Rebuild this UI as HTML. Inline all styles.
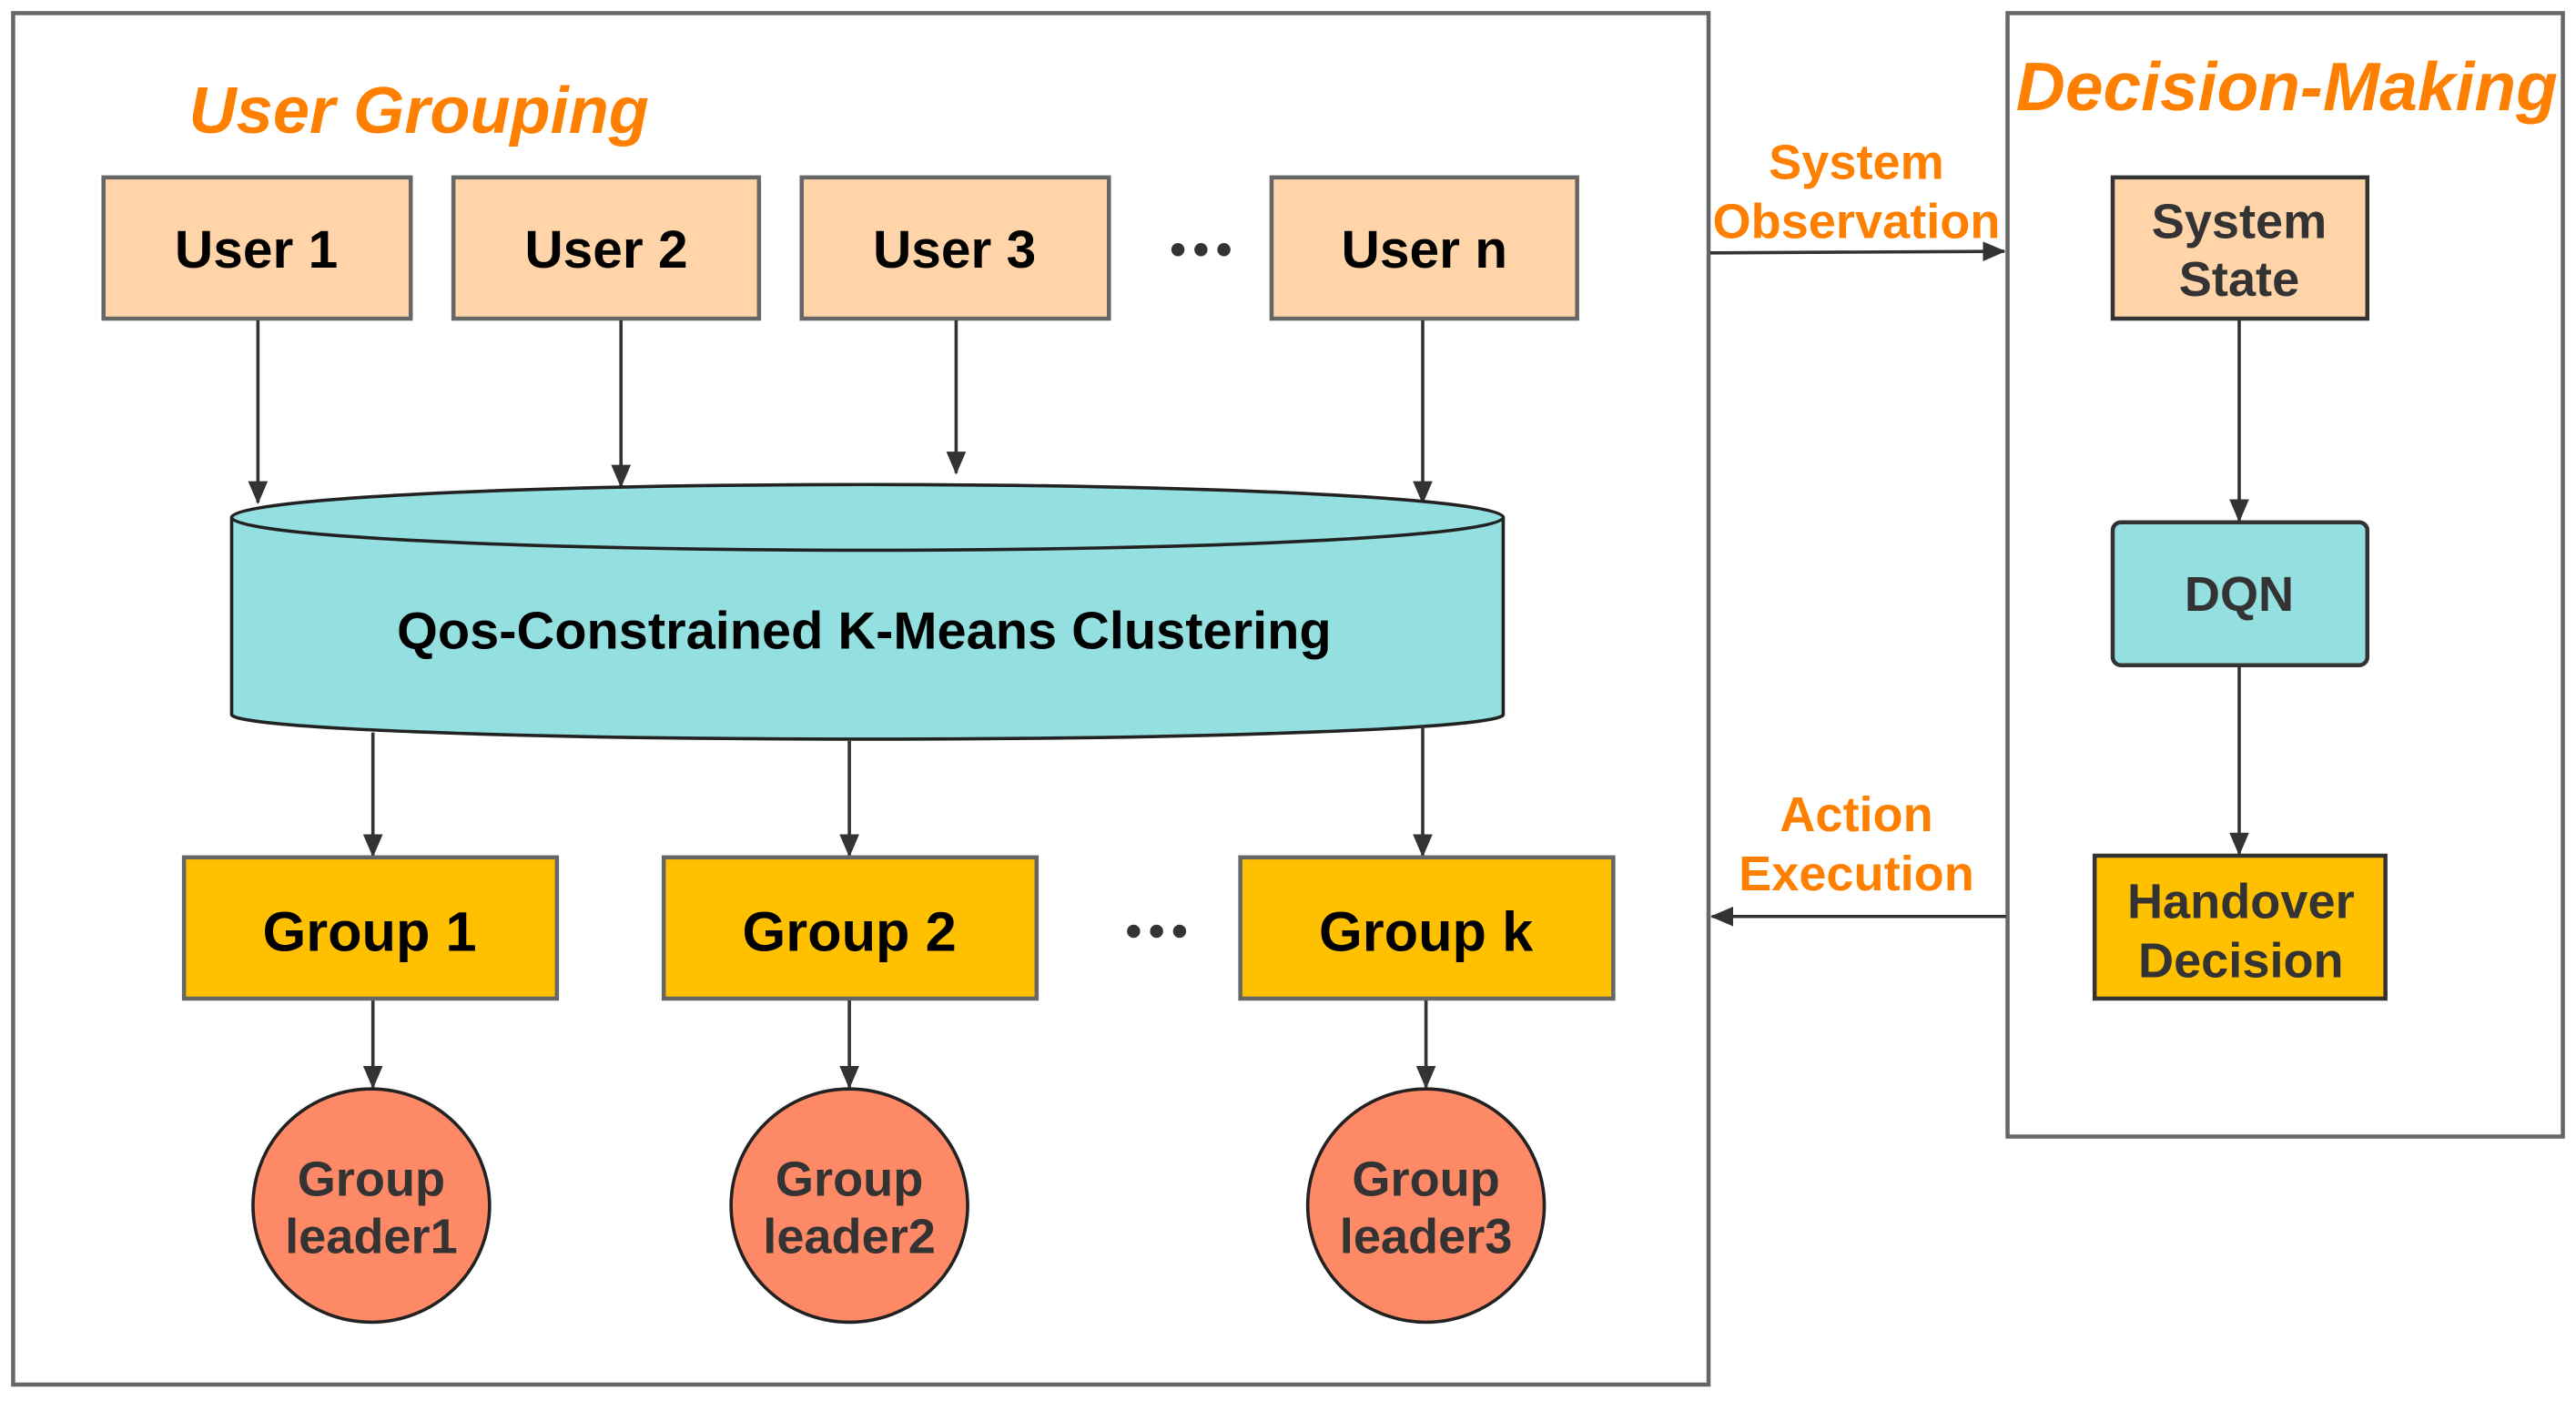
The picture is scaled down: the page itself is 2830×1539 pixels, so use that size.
<!DOCTYPE html>
<html><head><meta charset="utf-8"><style>
html,body{margin:0;padding:0;background:#fff}
svg{display:block}
text{font-family:"Liberation Sans","DejaVu Sans",sans-serif;font-weight:bold}
</style></head><body>
<svg width="2830" height="1539" viewBox="0 0 1568 853" preserveAspectRatio="none" xmlns="http://www.w3.org/2000/svg">
<defs>
<marker id="b" markerWidth="14" markerHeight="12" refX="13" refY="6" orient="auto" markerUnits="userSpaceOnUse">
<path d="M0,0 L14,6 L0,12 Z" fill="#333"/></marker>
</defs>
<rect x="0" y="0" width="1568" height="853" fill="#fff"/>
<rect x="8" y="8" width="1032" height="835" fill="none" stroke="#666" stroke-width="2.5"/>
<rect x="1222" y="8" width="338" height="684" fill="none" stroke="#666" stroke-width="2.5"/>
<text x="115" y="81" font-size="40" font-style="italic" fill="#ff8000">User Grouping</text>
<text x="1392" y="67" font-size="41.5" font-style="italic" fill="#ff8000" text-anchor="middle">Decision-Making</text>
<g fill="#fed4a8" stroke="#666" stroke-width="2.5">
<rect x="63" y="108" width="187" height="86"/>
<rect x="276" y="108" width="186" height="86"/>
<rect x="488" y="108" width="187" height="86"/>
<rect x="774" y="108" width="186" height="86"/>
</g>
<g font-size="32.5" fill="#000" text-anchor="middle">
<text x="156" y="163">User 1</text>
<text x="369" y="163">User 2</text>
<text x="581" y="163">User 3</text>
<text x="867" y="163">User n</text>
</g>
<g fill="#333"><circle cx="717" cy="152" r="4"/><circle cx="731" cy="152" r="4"/><circle cx="745" cy="152" r="4"/>
<circle cx="690" cy="567" r="4"/><circle cx="704" cy="567" r="4"/><circle cx="718" cy="567" r="4"/></g>
<g stroke="#333" stroke-width="2" fill="none" marker-end="url(#b)">
<line x1="157" y1="195" x2="157" y2="306"/>
<line x1="378" y1="195" x2="378" y2="296"/>
<line x1="582" y1="195" x2="582" y2="288"/>
<line x1="866" y1="195" x2="866" y2="306"/>
</g>
<path d="M141,315 L141,435 A387,15 0 0 0 915,435 L915,315" fill="#94dfe0" stroke="#222" stroke-width="2"/>
<ellipse cx="528" cy="315" rx="387" ry="20" fill="#94dfe0" stroke="#222" stroke-width="2"/>
<text x="526" y="395" font-size="32" fill="#000" text-anchor="middle">Qos-Constrained K-Means Clustering</text>
<g stroke="#333" stroke-width="2" fill="none" marker-end="url(#b)">
<line x1="227" y1="446" x2="227" y2="521"/>
<line x1="517" y1="451" x2="517" y2="521"/>
<line x1="866" y1="442" x2="866" y2="521"/>
<line x1="227" y1="609" x2="227" y2="662"/>
<line x1="517" y1="609" x2="517" y2="662"/>
<line x1="868" y1="609" x2="868" y2="662"/>
</g>
<g fill="#ffc000" stroke="#666" stroke-width="2.5">
<rect x="112" y="522" width="227" height="86"/>
<rect x="404" y="522" width="227" height="86"/>
<rect x="755" y="522" width="227" height="86"/>
</g>
<g font-size="34" fill="#000" text-anchor="middle">
<text x="225" y="579">Group 1</text>
<text x="517" y="579">Group 2</text>
<text x="868" y="579">Group k</text>
</g>
<g fill="#fd8966" stroke="#222" stroke-width="2">
<ellipse cx="226" cy="734" rx="72" ry="71"/>
<ellipse cx="517" cy="734" rx="72" ry="71"/>
<ellipse cx="868" cy="734" rx="72" ry="71"/>
</g>
<g font-size="30" fill="#333" text-anchor="middle">
<text x="226" y="728">Group</text><text x="226" y="763">leader1</text>
<text x="517" y="728">Group</text><text x="517" y="763">leader2</text>
<text x="868" y="728">Group</text><text x="868" y="763">leader3</text>
</g>
<g font-size="30" fill="#ff8000" text-anchor="middle">
<text x="1130" y="109">System</text><text x="1130" y="145">Observation</text>
<text x="1130" y="506">Action</text><text x="1130" y="542">Execution</text>
</g>
<g stroke="#333" stroke-width="2" fill="none" marker-end="url(#b)">
<line x1="1041" y1="154" x2="1220" y2="153"/>
<line x1="1221" y1="558" x2="1042" y2="558"/>
<line x1="1363" y1="195" x2="1363" y2="317"/>
<line x1="1363" y1="406" x2="1363" y2="520"/>
</g>
<rect x="1286" y="108" width="155" height="86" fill="#fed4a8" stroke="#333" stroke-width="2.5"/>
<rect x="1286" y="318" width="155" height="87" rx="5" fill="#94dfe0" stroke="#333" stroke-width="2.5"/>
<rect x="1275" y="521" width="177" height="87" fill="#ffc000" stroke="#333" stroke-width="2.5"/>
<g font-size="30" fill="#333" text-anchor="middle">
<text x="1363" y="145">System</text><text x="1363" y="180">State</text>
<text x="1363" y="372">DQN</text>
<text x="1364" y="559">Handover</text><text x="1364" y="595">Decision</text>
</g>
</svg>
</body></html>
